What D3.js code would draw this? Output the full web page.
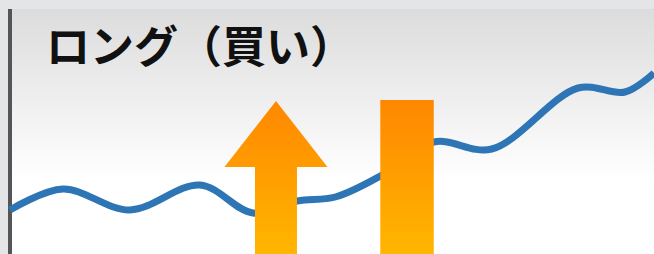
<!DOCTYPE html>
<html>
<head>
<meta charset="utf-8">
<script src="https://cdnjs.cloudflare.com/ajax/libs/d3/7.8.5/d3.min.js"></script>
<style>
  html, body { margin: 0; padding: 0; background: #e4e5e6; overflow: hidden; }
  #chart { width: 654px; height: 254px; }
</style>
</head>
<body>
<div id="chart"></div>
<script>
var width = 654, height = 254;

// price path (x: time 0-100, y: price level)
var timeIdx = [0, 8.2, 18.6, 29.5, 37.7, 44.6, 50.5, 57.5, 65.8, 74.8, 88.2, 95.5, 100];
var priceVals = [10, 20.5, 10, 22.5, 8.5, 14.5, 16.5, 27, 44, 40.5, 71, 69, 78.5];

// entry signal: arrow + candle bar
var arrowAt = [41.3], arrowTop = [64.5], arrowHeadBase = [31.5];
var barFrom = [57.5], barTo = [65.8], barTop = [65];

var title = "ロング（買い）";

var x = d3.scaleLinear().domain([0, 100]).range([10, width]),
    y = d3.scaleLinear().domain([0, 100]).range([230, 30]);

var svg = d3.select("#chart").append("svg")
    .attr("width", width)
    .attr("height", height);

var defs = svg.append("defs");

var bg = defs.append("linearGradient")
    .attr("id", "bg").attr("gradientUnits", "userSpaceOnUse")
    .attr("x1", 0).attr("y1", 9).attr("x2", 0).attr("y2", 180);
bg.append("stop").attr("offset", "0%").attr("stop-color", "#dcdcdc");
bg.append("stop").attr("offset", "100%").attr("stop-color", "#ffffff");

var og = defs.append("linearGradient")
    .attr("id", "orange").attr("gradientUnits", "userSpaceOnUse")
    .attr("x1", 0).attr("y1", 100).attr("x2", 0).attr("y2", height);
og.append("stop").attr("offset", "0%").attr("stop-color", "#ff8700");
og.append("stop").attr("offset", "100%").attr("stop-color", "#ffb600");

// panel
svg.append("rect")
    .attr("x", 8).attr("y", 9)
    .attr("width", width - 8).attr("height", height - 9)
    .attr("fill", "url(#bg)");
svg.append("rect")
    .attr("x", 8).attr("y", 9)
    .attr("width", 4).attr("height", height - 9)
    .attr("fill", "#555555");

// price line
var line = d3.line()
    .x(function(d) { return x(d[0]); })
    .y(function(d) { return y(d[1]); })
    .curve(d3.curveCatmullRom.alpha(0.5));

svg.append("path")
    .datum(d3.zip(timeIdx, priceVals))
    .attr("d", line)
    .attr("fill", "none")
    .attr("stroke", "#2e75b6")
    .attr("stroke-width", 7);

// arrow
var ax = x(arrowAt[0]),
    headHalf = x(8) - x(0),
    shaftHalf = x(3.26) - x(0);
var arrowPts = [
  [ax, y(arrowTop[0])],
  [ax + headHalf, y(arrowHeadBase[0])],
  [ax + shaftHalf, y(arrowHeadBase[0])],
  [ax + shaftHalf, height],
  [ax - shaftHalf, height],
  [ax - shaftHalf, y(arrowHeadBase[0])],
  [ax - headHalf, y(arrowHeadBase[0])]
];
svg.append("path")
    .attr("d", d3.line()(arrowPts) + "Z")
    .attr("fill", "url(#orange)");

// bar
svg.selectAll(".bar")
    .data(d3.zip(barFrom, barTo, barTop))
  .enter().append("rect")
    .attr("class", "bar")
    .attr("x", function(d) { return x(d[0]); })
    .attr("y", function(d) { return y(d[2]); })
    .attr("width", function(d) { return x(d[1]) - x(d[0]); })
    .attr("height", function(d) { return height - y(d[2]); })
    .attr("fill", "url(#orange)");

// title
svg.append("text")
    .attr("x", 46).attr("y", 63)
    .attr("font-family", "'Noto Sans CJK JP', sans-serif")
    .attr("font-weight", 700)
    .attr("font-size", 44)
    .attr("fill", "#111")
    .text(title);
</script>
</body>
</html>
